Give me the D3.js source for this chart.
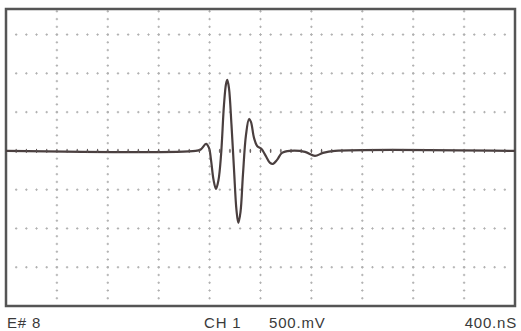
<!DOCTYPE html>
<html>
<head>
<meta charset="utf-8">
<script src="https://cdn.jsdelivr.net/npm/d3@7"></script>
<style>
  html, body { margin: 0; padding: 0; background: #fff; }
  svg { display: block; }
  .label { font-family: "Liberation Sans", Arial, sans-serif; font-size: 15px; letter-spacing: 0.8px; fill: #3a3a3a; }
</style>
</head>
<body>
<svg id="chart" width="521" height="331"></svg>
<script>
// time in ns (400 ns / div), voltage in mV (500 mV / div)
const timeNs = [0, 1490, 1530, 1572, 1595, 1611, 1631, 1650, 1670, 1690, 1713, 1729, 1739, 1752,
  1772, 1792, 1811, 1826, 1843, 1862, 1886, 1910, 1925, 1949, 1975, 2005, 2040, 2075, 2098,
  2130, 2169, 2232, 2350, 2428, 2491, 2585, 4000];
const voltMv = [0, 0, 19, 90, 39, -116, -374, -490, -374, -52, 593, 863, 915, 812,
  335, -245, -760, -928, -786, -309, 206, 412, 374, 168, 60, 30, -60, -155, -168,
  -116, -26, 0, -13, -64, -26, 0, 0];

const xTicks = [400, 800, 1200, 1600, 2000, 2400, 2800, 3200, 3600];
const yTicks = [-1500, -1000, -500, 0, 500, 1000, 1500];
const footLabels = ['E# 8', 'CH 1', '500.mV', '400.nS'];

const svg = d3.select('#chart');
const frame = { left: 6, right: 515, top: 9, bottom: 306 };

const x = d3.scaleLinear().domain([0, 4000]).range([frame.left, frame.right]);
const y = d3.scaleLinear().domain([-2000, 1830]).range([frame.bottom, frame.top]);

const grid = svg.append('g').attr('class', 'grid');

// graticule: small crosses every 1/5 division
function cross(g, cx, cy, c) {
  g.append('path')
    .attr('d', `M${cx - 1.2},${cy}H${cx + 1.2}M${cx},${cy - 1.2}V${cy + 1.2}`)
    .attr('stroke', c)
    .attr('stroke-width', 1);
}

xTicks.forEach((t) => {
  for (let v = -1900; v <= 1800; v += 100) {
    cross(grid, x(t), y(v), '#b0b0b0');
  }
});
yTicks.forEach((v) => {
  for (let t = 80; t < 4000; t += 80) {
    cross(grid, x(t), y(v), '#b0b0b0');
  }
});

// frame
svg.append('rect')
  .attr('x', frame.left)
  .attr('y', frame.top)
  .attr('width', frame.right - frame.left)
  .attr('height', frame.bottom - frame.top)
  .attr('fill', 'none')
  .attr('stroke', '#555')
  .attr('stroke-width', 2.5);

// trace
const line = d3.line()
  .x((d, i) => x(timeNs[i]))
  .y((d, i) => y(voltMv[i]))
  .curve(d3.curveCatmullRom.alpha(0.5));

svg.append('path')
  .datum(timeNs)
  .attr('d', line)
  .attr('fill', 'none')
  .attr('stroke', '#4a3f3f')
  .attr('stroke-width', 2.2)
  .attr('stroke-linejoin', 'round');

// ticks on the centre line
const ctr = svg.append('g');
for (let t = 80; t < 4000; t += 80) {
  ctr.append('line')
    .attr('x1', x(t)).attr('x2', x(t))
    .attr('y1', y(0) - 2).attr('y2', y(0) + 2)
    .attr('stroke', '#5a5050')
    .attr('stroke-width', 1);
}

// footer
const labelX = [7, 204, 269, 517];
const anchors = ['start', 'start', 'start', 'end'];
svg.selectAll('.label')
  .data(footLabels)
  .enter()
  .append('text')
  .attr('class', 'label')
  .attr('x', (d, i) => labelX[i])
  .attr('y', 328)
  .attr('text-anchor', (d, i) => anchors[i])
  .text((d) => d);
</script>
</body>
</html>
